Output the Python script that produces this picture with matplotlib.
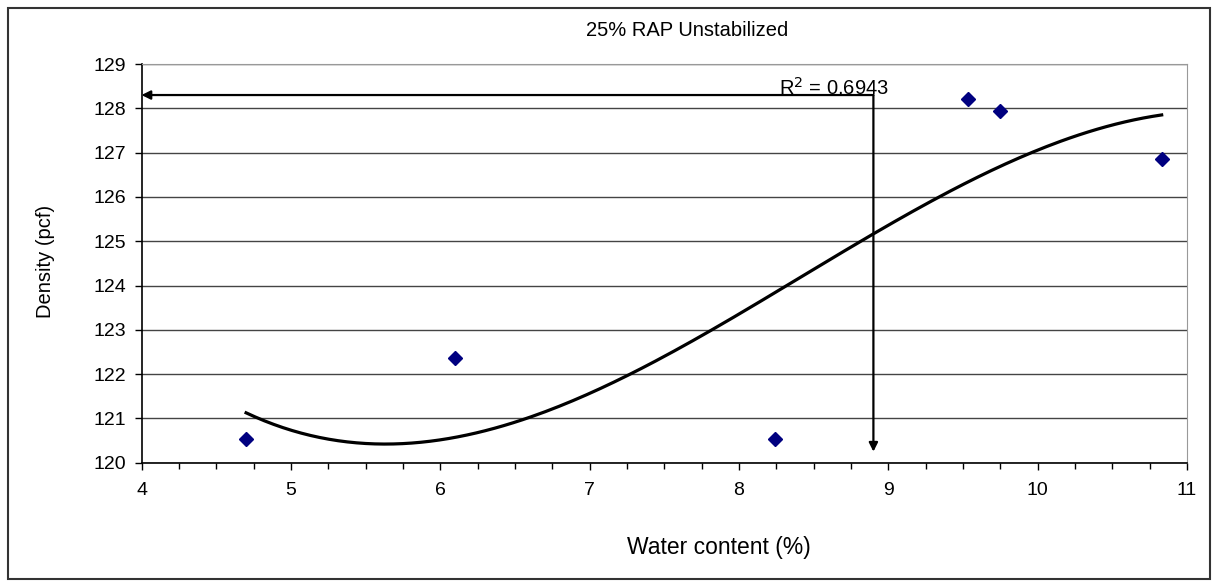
import numpy as np
import matplotlib
matplotlib.use('Agg')
from matplotlib import pyplot as plt
from matplotlib.patches import Rectangle

# data
water = [4.70, 6.10, 8.24, 9.53, 9.75, 10.83]
density = [120.53, 122.36, 120.53, 128.20, 127.93, 126.86]
r2_text = 'R$^2$ = 0.6943'

# optimum (arrows)
w_opt = 8.9
d_max = 128.3

x_ticks = [4, 5, 6, 7, 8, 9, 10, 11]
y_ticks = [120, 121, 122, 123, 124, 125, 126, 127, 128, 129]


def main():
	plt.rcParams['font.family'] = ['Liberation Sans', 'DejaVu Sans']
	fig = plt.figure(figsize=(12.17, 5.81), dpi=100)
	ax = fig.add_axes([0.1163, 0.2036, 0.9754 - 0.1163, 0.8898 - 0.2036])

	# trend line: 3rd order polynomial through the points
	coef = np.polyfit(water, density, 3)
	xs = np.linspace(min(water), max(water), 200)
	ax.plot(xs, np.polyval(coef, xs), color='black', lw=2.3, zorder=3)
	ax.plot(water, density, 'D', color='#000080', markersize=7, zorder=4)

	# arrows to the optimum
	ax.annotate('', xy=(x_ticks[0], d_max), xytext=(w_opt, d_max),
				arrowprops=dict(arrowstyle='-|>', color='black', lw=1.6,
								mutation_scale=13, shrinkA=0, shrinkB=0))
	ax.annotate('', xy=(w_opt, y_ticks[0] + 0.25), xytext=(w_opt, d_max),
				arrowprops=dict(arrowstyle='-|>', color='black', lw=1.6,
								mutation_scale=13, shrinkA=0, shrinkB=0))
	ax.text(8.27, 128.47, r2_text, fontsize=14.5, va='center', ha='left')

	ax.set_xlim(x_ticks[0], x_ticks[-1])
	ax.set_ylim(y_ticks[0], y_ticks[-1])
	ax.set_xticks(x_ticks)
	ax.set_xticks(np.arange(4, 11.01, 0.25), minor=True)
	ax.set_yticks(y_ticks)
	ax.tick_params(axis='both', direction='out', length=5, width=1, labelsize=14)
	ax.tick_params(axis='x', which='minor', length=4, width=1)
	ax.tick_params(axis='x', pad=9)
	ax.tick_params(axis='y', pad=6)
	ax.grid(axis='y', color='#444444', lw=1)
	ax.set_axisbelow(True)
	for s in ['top', 'right']:
		ax.spines[s].set_color('#999999')
	for s in ['left', 'bottom']:
		ax.spines[s].set_color('black')
		ax.spines[s].set_linewidth(1.2)

	fig.text(0.565, 0.947, '25% RAP Unstabilized', ha='center', va='center', fontsize=14.5)
	fig.text(0.591, 0.057, 'Water content (%)', ha='center', va='center', fontsize=16.5)
	fig.text(0.037, 0.55, 'Density (pcf)', ha='center', va='center', rotation=90, fontsize=14.5)

	# chart border
	fig.patches.append(Rectangle((8 / 1217, 0.004), 1202 / 1217, 1 - 8 / 581 - 0.004,
								 transform=fig.transFigure, fill=False,
								 edgecolor='#333333', lw=1.5))

	fig.savefig('out.png', dpi=100)
	return 0


if __name__ == '__main__':
	main()
